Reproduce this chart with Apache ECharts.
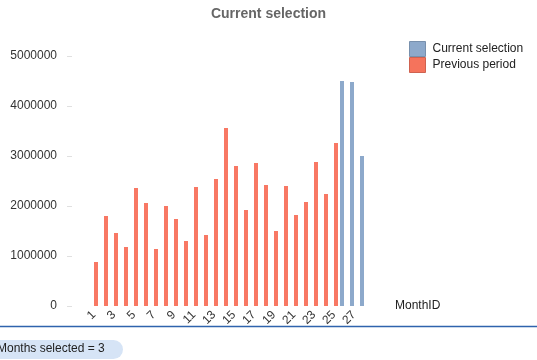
<!DOCTYPE html>
<html>
<head>
<meta charset="utf-8">
<script src="https://cdn.jsdelivr.net/npm/echarts@6/dist/echarts.min.js"></script>
<style>
html,body{margin:0;padding:0;background:#fff;}
#c{width:537px;height:360px;}
</style>
</head>
<body>
<div id="c"></div>
<script>
var months = ['1','2','3','4','5','6','7','8','9','10','11','12','13','14','15','16','17','18','19','20','21','22','23','24','25','26','27','28'];
var currentSelection = [null,null,null,null,null,null,null,null,null,null,null,null,null,null,null,null,null,null,null,null,null,null,null,null,null,4500000,4480000,3000000];
var previousPeriod = [880000,1800000,1460000,1180000,2360000,2060000,1140000,2000000,1740000,1300000,2380000,1420000,2540000,3560000,2800000,1920000,2860000,2420000,1500000,2400000,1820000,2080000,2880000,2240000,3260000,null,null,null];
var yTicks = [0,1000000,2000000,3000000,4000000,5000000];

var chart = echarts.init(document.getElementById('c'), null, {renderer:'canvas'});
var font = 'Arial, "Liberation Sans", sans-serif';
chart.setOption({
  animation:false,
  backgroundColor:'#ffffff',
  title:{
    text:'Current selection', left:'center', top:2,
    textStyle:{fontFamily:font, fontSize:14, fontWeight:'bold', color:'#666666'}
  },
  legend:{
    orient:'vertical', left:409, top:41, padding:0, itemWidth:16, itemHeight:15, itemGap:0,
    icon:'rect',
    textStyle:{fontFamily:font, fontSize:12, color:'#222222', padding:[0,0,0,2]},
    data:[
      {name:'Current selection', itemStyle:{color:'#8da9cb', borderColor:'#7890ad', borderWidth:1}},
      {name:'Previous period', itemStyle:{color:'#f5735c', borderColor:'#cf6250', borderWidth:1}}
    ]
  },
  grid:{left:89, right:168, top:56, bottom:54},
  xAxis:{
    type:'category', data:months,
    name:'MonthID', nameLocation:'end', nameGap:26,
    nameTextStyle:{fontFamily:font, fontSize:12, color:'#222222', padding:[22,0,0,0]},
    axisLine:{show:false}, axisTick:{show:false},
    axisLabel:{interval:1, rotate:45, fontFamily:font, fontSize:12, color:'#333333', margin:7}
  },
  yAxis:{
    type:'value', min:yTicks[0], max:yTicks[yTicks.length-1], interval:1000000,
    offset:17,
    axisLine:{show:false},
    axisTick:{show:true, length:5, lineStyle:{color:'#e0e0e0'}},
    splitLine:{show:false},
    axisLabel:{fontFamily:font, fontSize:12, color:'#333333', margin:15, formatter:function(v){return String(v);}}
  },
  series:[
    {name:'Current selection', type:'bar', data:currentSelection, barWidth:4, barGap:'0%', itemStyle:{color:'#8da9cb'}},
    {name:'Previous period', type:'bar', data:previousPeriod, barWidth:4, barGap:'0%', itemStyle:{color:'#f87864'}}
  ],
  graphic:[
    {type:'line', shape:{x1:0,y1:326.5,x2:537,y2:326.5}, style:{stroke:'#2f63ad', lineWidth:1.3}},
    {type:'rect', shape:{x:-12,y:340,width:135,height:19,r:9.5}, style:{fill:'#d6e4f6'}},
    {type:'text', left:-3, top:343, style:{text:'Months selected = 3', font:'12px Arial, "Liberation Sans", sans-serif', fill:'#222222'}}
  ]
});
</script>
</body>
</html>
